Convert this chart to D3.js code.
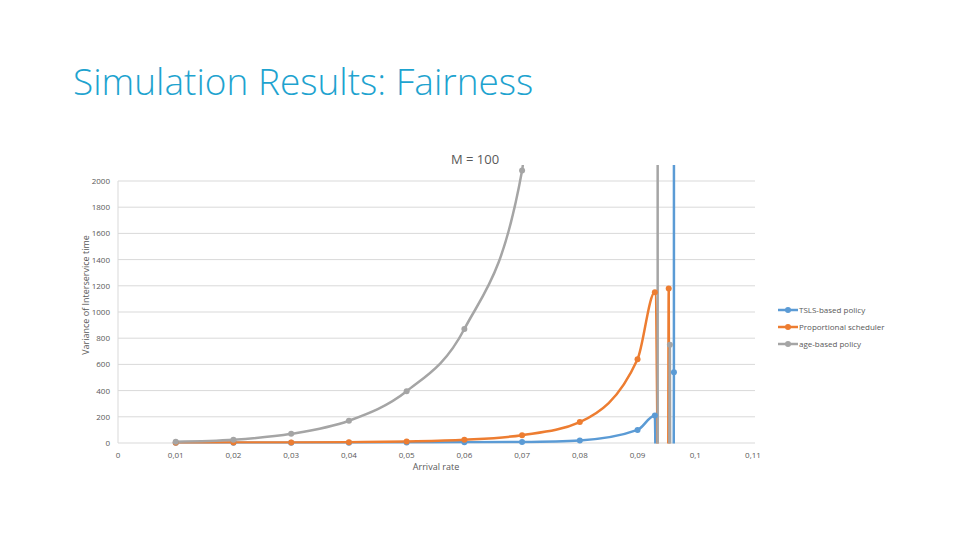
<!DOCTYPE html>
<html><head><meta charset="utf-8">
<script src="https://cdn.jsdelivr.net/npm/d3@7"></script>
<style>body{margin:0;background:#fff;font-family:"Open Sans",sans-serif}</style>
</head><body>
<svg id="c" width="960" height="540"></svg>
<script>
const xTicks = [0, 0.01, 0.02, 0.03, 0.04, 0.05, 0.06, 0.07, 0.08, 0.09, 0.1, 0.11];
const yTicks = [0, 200, 400, 600, 800, 1000, 1200, 1400, 1600, 1800, 2000];

const tslsX = [0.01, 0.02, 0.03, 0.04, 0.05, 0.06, 0.07, 0.08, 0.09, 0.093, 0.0935, 0.0961, 0.0963, 0.0966];
const tslsY = [1, 1, 2, 2, 3, 5, 8, 20, 100, 210, -3000, -3000, 540, 100000];
const propX = [0.01, 0.02, 0.03, 0.04, 0.05, 0.06, 0.07, 0.08, 0.09, 0.093, 0.0943, 0.0952, 0.0954, 0.0957];
const propY = [2, 3, 4, 6, 12, 25, 60, 160, 640, 1150, -3000, -3000, 1180, -3000];
const ageX = [0.01, 0.02, 0.03, 0.04, 0.05, 0.06, 0.07, 0.0932, 0.0935, 0.0953, 0.0956, 0.0958];
const ageY = [10, 25, 70, 170, 395, 870, 2080, 100000, -3000, -3000, 750, -3000];

const series = [
  { name: 'TSLS-based policy', color: '#5b9bd5', x: tslsX, y: tslsY },
  { name: 'Proportional scheduler', color: '#ed7d31', x: propX, y: propY },
  { name: 'age-based policy', color: '#a5a5a5', x: ageX, y: ageY }
];

const svg = d3.select('#c');
const x = d3.scaleLinear().domain([0, 0.11]).range([118, 753]);
const y = d3.scaleLinear().domain([0, 2000]).range([443, 181]);
const fmt = d => String(d).replace('.', ',');

svg.append('text').attr('x', 73).attr('y', 95).attr('font-size', 37).attr('font-weight', 300)
  .attr('fill', '#1ea3cf').attr('font-family', 'Open Sans').text('Simulation Results: Fairness');

svg.append('text').attr('x', 475).attr('y', 164).attr('text-anchor', 'middle')
  .attr('font-size', 13).attr('fill', '#595959').text('M = 100');

// gridlines
svg.append('g').selectAll('line').data(yTicks).join('line')
  .attr('x1', 118).attr('x2', 755).attr('y1', d => y(d)).attr('y2', d => y(d))
  .attr('stroke', '#d9d9d9').attr('stroke-width', 1);
svg.append('line').attr('x1', 118).attr('x2', 118).attr('y1', 181).attr('y2', 443).attr('stroke', '#d9d9d9');

svg.append('g').selectAll('text').data(yTicks).join('text')
  .attr('x', 110).attr('y', d => y(d) + 3).attr('text-anchor', 'end')
  .attr('font-size', 8).attr('fill', '#595959').text(d => d);
svg.append('g').selectAll('text').data(xTicks).join('text')
  .attr('x', d => x(d)).attr('y', 458).attr('text-anchor', 'middle')
  .attr('font-size', 8).attr('fill', '#595959').text(fmt);

svg.append('text').attr('x', 436).attr('y', 470).attr('text-anchor', 'middle')
  .attr('font-size', 9).attr('fill', '#595959').text('Arrival rate');
svg.append('text').attr('transform', 'translate(89,295) rotate(-90)').attr('text-anchor', 'middle')
  .attr('font-size', 9).attr('fill', '#595959').text('Variance of Interservice time');

svg.append('clipPath').attr('id', 'clip').append('rect')
  .attr('x', 110).attr('y', 165).attr('width', 650).attr('height', 278.5);

const line = d3.line().x(d => x(d[0])).y(d => y(d[1])).curve(d3.curveMonotoneX);
const plot = svg.append('g').attr('clip-path', 'url(#clip)');
const marks = svg.append('g');
series.forEach(s => {
  const pts = s.x.map((v, i) => [v, s.y[i]]);
  plot.append('path').attr('d', line(pts)).attr('fill', 'none')
    .attr('stroke', s.color).attr('stroke-width', 2.5);
  marks.selectAll(null).data(pts.filter(p => p[1] >= 0 && p[1] < 5000)).join('circle')
    .attr('cx', d => x(d[0])).attr('cy', d => y(d[1])).attr('r', 3).attr('fill', s.color);
});

const lg = svg.append('g').selectAll('g').data(series).join('g')
  .attr('transform', (d, i) => `translate(778,${310 + i * 17})`);
lg.append('line').attr('x1', 0).attr('x2', 20).attr('stroke', d => d.color).attr('stroke-width', 2.5);
lg.append('circle').attr('cx', 10).attr('r', 3).attr('fill', d => d.color);
lg.append('text').attr('x', 21).attr('y', 3).attr('font-size', 8).attr('fill', '#595959').text(d => d.name);
</script>
</body></html>
